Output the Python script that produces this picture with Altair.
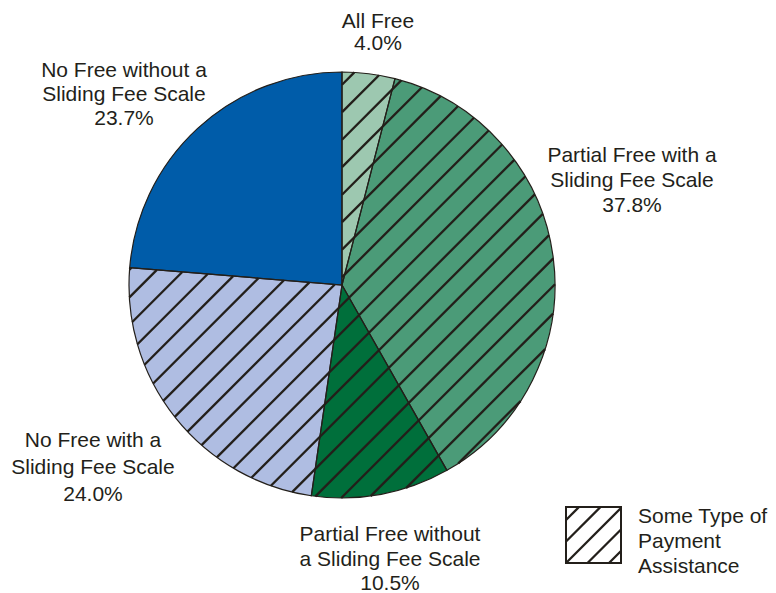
import altair as alt
import numpy as np
import pandas as pd

# ---------------- data ----------------
categories = [
    "All Free",
    "Partial Free with a Sliding Fee Scale",
    "Partial Free without a Sliding Fee Scale",
    "No Free with a Sliding Fee Scale",
    "No Free without a Sliding Fee Scale",
]
shares = [4.0, 37.8, 10.5, 24.0, 23.7]
payment_assistance = [True, True, True, True, False]
label_lines = [
    ["All Free"],
    ["Partial Free with a", "Sliding Fee Scale"],
    ["Partial Free without", "a Sliding Fee Scale"],
    ["No Free with a", "Sliding Fee Scale"],
    ["No Free without a", "Sliding Fee Scale"],
]
legend_text = ["Some Type of", "Payment", "Assistance"]

# ---------------- styles / layout ----------------
colors = ["#9dc8b0", "#4b9b78", "#006f3b", "#afbde2", "#005ca9"]
INK = "#231f1a"
FONT = "Liberation Sans"
W, H = 776, 593
CX, CY, R = 342, 285, 213
HATCH_STEP, HATCH_PHASE = 27.5, 426.7
# (x centre, first baseline, line height) per label
label_layout = [(378, 28, 22), (632, 162, 25), (390, 541, 24.5), (93, 447, 27), (124, 77, 24)]
LBOX = (566, 507, 621, 563)
LSTEP, LPHASE = 21.5, 1129
LTEXT = (638, 523, 25)

xs_scale = alt.Scale(domain=[0, W], range=[0, W], nice=False, zero=False)
ys_scale = alt.Scale(domain=[0, H], range=[0, H], nice=False, zero=False)

# ---------------- pie ----------------
pie_df = pd.DataFrame({"category": categories, "share": shares, "order": list(range(len(shares)))})
color_enc = alt.Color("category:N", scale=alt.Scale(domain=categories, range=colors), legend=None)
pie = alt.Chart(pie_df).mark_arc(outerRadius=R, strokeWidth=0).encode(
    theta=alt.Theta("share:Q", stack=True),
    order=alt.Order("order:Q"),
    color=color_enc,
    x=alt.value(CX),
    y=alt.value(CY),
)
pie_outline = alt.Chart(pie_df).mark_arc(
    outerRadius=R, fillOpacity=0, stroke=INK, strokeWidth=1.2
).encode(
    theta=alt.Theta("share:Q", stack=True),
    order=alt.Order("order:Q"),
    x=alt.value(CX),
    y=alt.value(CY),
)

# ---------------- hatch segments over the hatched slices ----------------
cum = np.concatenate([[0.0], np.cumsum(shares)]) / 100.0 * 2 * np.pi
hatched = np.array(payment_assistance)
rows = []
m0 = CX + CY
kmin = int(np.floor((m0 - R * np.sqrt(2) - HATCH_PHASE) / HATCH_STEP))
kmax = int(np.ceil((m0 + R * np.sqrt(2) - HATCH_PHASE) / HATCH_STEP))
for k in range(kmin, kmax + 1):
    c = HATCH_PHASE + k * HATCH_STEP
    m = c - m0
    disc = 2 * R * R - m * m
    if disc <= 0:
        continue
    u1, u2 = (m - np.sqrt(disc)) / 2, (m + np.sqrt(disc)) / 2
    us = np.linspace(u1, u2, 5000)
    px = CX + us
    py = c - px
    ang = np.mod(np.arctan2(px - CX, CY - py), 2 * np.pi)
    idx = np.clip(np.searchsorted(cum, ang, side="right") - 1, 0, len(shares) - 1)
    mask = hatched[idx]
    padded = np.concatenate([[False], mask, [False]]).astype(int)
    d = np.diff(padded)
    starts = np.where(d == 1)[0]
    ends = np.where(d == -1)[0] - 1
    for s, e in zip(starts, ends):
        if e > s:
            rows.append({"x": px[s], "y": py[s], "x2": px[e], "y2": py[e]})
hatch_df = pd.DataFrame(rows)

hatch = alt.Chart(hatch_df).mark_rule(color=INK, strokeWidth=2.3).encode(
    x=alt.X("x:Q", scale=xs_scale, axis=None),
    y=alt.Y("y:Q", scale=ys_scale, axis=None),
    x2="x2:Q",
    y2="y2:Q",
)

# ---------------- legend ----------------
lx0, ly0, lx1, ly1 = LBOX
box_df = pd.DataFrame([{"x": lx0, "y": ly0, "x2": lx1, "y2": ly1}])
box = alt.Chart(box_df).mark_rect(fill="white", stroke=INK, strokeWidth=2).encode(
    x=alt.X("x:Q", scale=xs_scale, axis=None),
    y=alt.Y("y:Q", scale=ys_scale, axis=None),
    x2="x2:Q",
    y2="y2:Q",
)
lrows = []
for k in range(-10, 11):
    c = LPHASE + k * LSTEP
    xa = max(lx0, c - ly1)
    xb = min(lx1, c - ly0)
    if xb - xa > 0.5:
        lrows.append({"x": xa, "y": c - xa, "x2": xb, "y2": c - xb})
lhatch = alt.Chart(pd.DataFrame(lrows)).mark_rule(color=INK, strokeWidth=2.3).encode(
    x=alt.X("x:Q", scale=xs_scale, axis=None),
    y=alt.Y("y:Q", scale=ys_scale, axis=None),
    x2="x2:Q",
    y2="y2:Q",
)
box_outline = alt.Chart(box_df).mark_rect(fillOpacity=0, stroke=INK, strokeWidth=2).encode(
    x=alt.X("x:Q", scale=xs_scale, axis=None),
    y=alt.Y("y:Q", scale=ys_scale, axis=None),
    x2="x2:Q",
    y2="y2:Q",
)

# ---------------- labels ----------------
text_layers = []
for lines, share, (tx, ty, lh) in zip(label_lines, shares, label_layout):
    txt = "\n".join(lines + [f"{share:.1f}%"])
    t = alt.Chart(pd.DataFrame([{"x": tx, "y": ty, "text": txt}])).mark_text(
        align="center", baseline="alphabetic", lineBreak="\n", lineHeight=lh,
        fontSize=21, font=FONT, color=INK,
    ).encode(
        x=alt.X("x:Q", scale=xs_scale, axis=None),
        y=alt.Y("y:Q", scale=ys_scale, axis=None),
        text="text:N",
    )
    text_layers.append(t)

lt = alt.Chart(pd.DataFrame([{"x": LTEXT[0], "y": LTEXT[1], "text": "\n".join(legend_text)}])).mark_text(
    align="left", baseline="alphabetic", lineBreak="\n", lineHeight=LTEXT[2],
    fontSize=21, font=FONT, color=INK,
).encode(
    x=alt.X("x:Q", scale=xs_scale, axis=None),
    y=alt.Y("y:Q", scale=ys_scale, axis=None),
    text="text:N",
)

chart = alt.layer(
    pie, hatch, pie_outline, box, lhatch, box_outline, *text_layers, lt
).properties(
    width=W, height=H, autosize=alt.AutoSizeParams(type="none"), padding=0,
    background="white",
).resolve_scale(theta="independent").configure_view(stroke=None)

chart.save("out.html", embed_options={"renderer": "svg", "actions": False})
